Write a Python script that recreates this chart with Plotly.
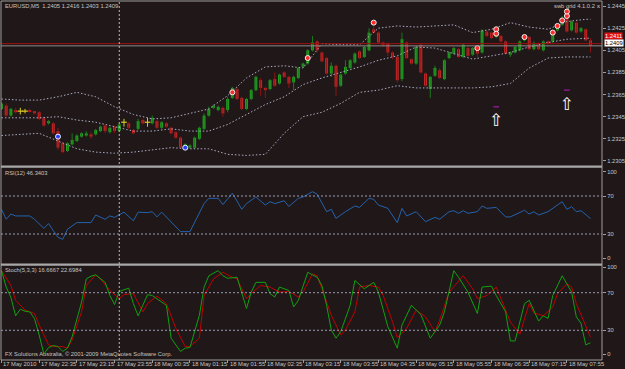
import plotly.graph_objects as go

W, H = 625, 369

# ---------------- data ----------------
bars = list(range(126))
open_ = [1.2352,1.2355,1.2346,1.2351,1.2350,1.2350,1.2351,1.2350,1.2349,1.2344,
         1.2339,1.2339,1.2332,1.2321,1.2314,1.2320,1.2323,1.2327,1.2328,1.2329,
         1.2329,1.2332,1.2337,1.2331,1.2336,1.2332,1.2340,1.2339,1.2333,1.2334,
         1.2342,1.2340,1.2339,1.2341,1.2335,1.2339,1.2335,1.2331,1.2326,1.2317,
         1.2317,1.2317,1.2325,1.2334,1.2346,1.2353,1.2351,1.2353,1.2351,1.2362,
         1.2370,1.2362,1.2352,1.2361,1.2369,1.2378,1.2371,1.2370,1.2379,1.2375,
         1.2385,1.2381,1.2376,1.2380,1.2390,1.2393,1.2405,1.2413,1.2403,1.2398,
         1.2384,1.2391,1.2373,1.2384,1.2389,1.2394,1.2404,1.2399,1.2405,1.2424,
         1.2421,1.2412,1.2411,1.2403,1.2399,1.2379,1.2412,1.2397,1.2393,1.2410,
         1.2384,1.2370,1.2382,1.2387,1.2379,1.2398,1.2402,1.2406,1.2399,1.2407,
         1.2401,1.2408,1.2403,1.2422,1.2421,1.2417,1.2418,1.2413,1.2401,1.2403,
         1.2405,1.2414,1.2417,1.2406,1.2411,1.2405,1.2413,1.2413,1.2423,1.2428,
         1.2434,1.2423,1.2430,1.2422,1.2424,1.2414]
high = [1.2358,1.2357,1.2353,1.2353,1.2353,1.2352,1.2352,1.2350,1.2350,1.2345,
        1.2342,1.2340,1.2335,1.2322,1.2322,1.2330,1.2329,1.2331,1.2332,1.2331,
        1.2334,1.2337,1.2338,1.2336,1.2337,1.2339,1.2343,1.2340,1.2334,1.2343,
        1.2343,1.2344,1.2346,1.2342,1.2341,1.2340,1.2336,1.2332,1.2327,1.2321,
        1.2320,1.2327,1.2336,1.2348,1.2354,1.2356,1.2355,1.2354,1.2363,1.2372,
        1.2372,1.2363,1.2362,1.2370,1.2382,1.2380,1.2372,1.2379,1.2385,1.2384,
        1.2386,1.2382,1.2382,1.2390,1.2394,1.2406,1.2418,1.2414,1.2404,1.2399,
        1.2394,1.2392,1.2384,1.2396,1.2397,1.2403,1.2405,1.2409,1.2425,1.2427,
        1.2422,1.2413,1.2412,1.2404,1.2400,1.2421,1.2413,1.2398,1.2409,1.2411,
        1.2385,1.2382,1.2391,1.2389,1.2397,1.2404,1.2408,1.2407,1.2411,1.2408,
        1.2408,1.2409,1.2424,1.2423,1.2422,1.2426,1.2419,1.2414,1.2404,1.2409,
        1.2414,1.2418,1.2418,1.2413,1.2412,1.2414,1.2414,1.2422,1.2429,1.2436,
        1.2441,1.2432,1.2431,1.2426,1.2425,1.2416]
low = [1.2351,1.2345,1.2345,1.2348,1.2347,1.2348,1.2349,1.2347,1.2342,1.2336,
       1.2338,1.2329,1.2315,1.2312,1.2313,1.2319,1.2322,1.2326,1.2327,1.2325,
       1.2328,1.2331,1.2330,1.2330,1.2330,1.2331,1.2336,1.2334,1.2329,1.2333,
       1.2338,1.2336,1.2338,1.2334,1.2334,1.2335,1.2329,1.2325,1.2316,1.2316,
       1.2316,1.2316,1.2324,1.2333,1.2345,1.2352,1.2350,1.2345,1.2349,1.2361,
       1.2360,1.2351,1.2351,1.2360,1.2368,1.2364,1.2362,1.2369,1.2372,1.2374,
       1.2380,1.2371,1.2369,1.2379,1.2389,1.2392,1.2404,1.2403,1.2394,1.2383,
       1.2381,1.2364,1.2372,1.2383,1.2388,1.2393,1.2397,1.2398,1.2404,1.2420,
       1.2411,1.2408,1.2400,1.2397,1.2376,1.2377,1.2397,1.2392,1.2392,1.2384,
       1.2372,1.2362,1.2381,1.2379,1.2378,1.2397,1.2401,1.2398,1.2398,1.2399,
       1.2400,1.2399,1.2402,1.2417,1.2415,1.2416,1.2412,1.2401,1.2399,1.2402,
       1.2404,1.2413,1.2405,1.2405,1.2405,1.2404,1.2410,1.2412,1.2422,1.2427,
       1.2421,1.2422,1.2420,1.2421,1.2413,1.2403]
close = [1.2357,1.2346,1.2352,1.2349,1.2350,1.2350,1.2350,1.2348,1.2343,1.2337,
         1.2341,1.2330,1.2317,1.2313,1.2321,1.2324,1.2328,1.2330,1.2330,1.2327,
         1.2333,1.2336,1.2332,1.2335,1.2332,1.2338,1.2340,1.2335,1.2330,1.2341,
         1.2339,1.2340,1.2344,1.2335,1.2340,1.2336,1.2330,1.2326,1.2317,1.2320,
         1.2319,1.2326,1.2335,1.2346,1.2352,1.2355,1.2354,1.2348,1.2361,1.2371,
         1.2361,1.2352,1.2361,1.2369,1.2381,1.2371,1.2369,1.2378,1.2373,1.2383,
         1.2381,1.2375,1.2381,1.2389,1.2393,1.2405,1.2412,1.2405,1.2395,1.2384,
         1.2391,1.2372,1.2383,1.2390,1.2396,1.2402,1.2398,1.2408,1.2421,1.2421,
         1.2412,1.2410,1.2403,1.2399,1.2378,1.2415,1.2398,1.2393,1.2408,1.2385,
         1.2373,1.2381,1.2389,1.2380,1.2396,1.2403,1.2407,1.2399,1.2410,1.2400,
         1.2407,1.2402,1.2423,1.2418,1.2416,1.2425,1.2413,1.2402,1.2403,1.2408,
         1.2413,1.2416,1.2406,1.2411,1.2406,1.2413,1.2411,1.2421,1.2428,1.2434,
         1.2422,1.2431,1.2421,1.2425,1.2414,1.2409]

bb_bar = [0,4,8,12,16,20,24,28,32,36,40,44,48,52,56,60,64,68,72,76,80,84,88,92,96,100,104,108,112,116,120,124,125]
bb_upper = [1.2361,1.2360,1.2360,1.2363,1.2367,1.2363,1.2354,1.2347,1.2343,1.2344,1.2348,1.2352,1.2364,1.2380,1.2390,1.2391,
            1.2389,1.2411,1.2410,1.2410,1.2425,1.2427,1.2426,1.2427,1.2428,1.2421,1.2424,1.2430,1.2426,1.2424,1.2431,1.2433,1.2433]
bb_mid = [1.2344,1.2344,1.2344,1.2345,1.2342,1.2340,1.2336,1.2332,1.2332,1.2334,1.2332,1.2332,1.2338,1.2347,1.2356,1.2363,
          1.2374,1.2380,1.2385,1.2390,1.2396,1.2400,1.2408,1.2407,1.2402,1.2397,1.2400,1.2403,1.2408,1.2412,1.2415,1.2416,1.2416]
bb_lower = [1.2328,1.2329,1.2330,1.2323,1.2316,1.2313,1.2312,1.2313,1.2315,1.2317,1.2316,1.2316,1.2311,1.2310,1.2311,1.2330,
            1.2345,1.2349,1.2357,1.2367,1.2369,1.2373,1.2371,1.2371,1.2371,1.2371,1.2372,1.2375,1.2389,1.2398,1.2399,1.2399,1.2399]

rsi_bar = [0,1,2,3,6,7,9,10,11,12,13,14,16,19,20,21,22,23,24,26,28,29,31,32,33,34,35,38,40,43,44,46,47,49,51,52,54,56,57,58,
           60,61,63,64,66,67,69,70,71,73,75,76,78,79,80,82,84,85,86,88,90,92,93,95,96,97,98,99,101,102,103,105,107,108,
           111,112,113,114,116,119,120,121,122,123,125]
rsi_val = [56,45.5,51,49,49,45.5,36,41,33.5,26.5,24.4,35,42,42,50,48,45.5,49,47.5,53,44,53,52.5,53.5,48,53,48,32.5,32.5,62,
           67.5,67.5,61,73,56,62,69,60.5,64,62,65,59,67.5,69,74.5,72,53.5,56,46.5,53.5,59.5,58,67.5,66.5,60.5,57,42,57,49,53.5,
           43,47.5,45.5,53.5,54.5,51.8,54.5,51.8,53.5,59.5,57,58,48,48,55,51,53.5,50,53.5,64,56,58.8,53.5,54.5,46.3403]

stk_bar = [0,1,2,3,4,5,6,7,8,9,10,11,12,13,14,15,17,18,19,20,22,23,24,25,27,28,29,31,32,34,35,36,38,39,40,42,43,44,46,47,
           48,50,52,53,54,56,57,58,59,61,62,63,65,66,67,68,69,70,71,72,74,75,77,79,80,82,84,85,87,89,91,93,94,96,97,99,
           101,102,104,105,107,108,109,111,112,114,115,116,117,119,121,122,123,124,125]
stk_val = [93.5,76,65,45.4,52.4,50.3,49.6,42.6,25,4.7,11.7,13.8,12.7,7.5,11,23.3,60,84.7,87.5,89,81,67,57.4,71.4,74.8,58.4,
           45.4,67.9,67,59.5,56.6,21.6,7.5,11,11.7,46,76,88,93.5,88,85.4,86.4,53.2,70.6,81,81,69,65.4,76,72.4,54.8,61.9,91.7,
           89,86.4,77.7,56.6,30.3,21.6,28.5,56.6,83,74.2,81,70.6,33.8,11,35.6,56.6,46.8,21.6,35.6,49.6,93.5,86.4,70.6,47.9,76,
           77,67,49.6,18.7,18.7,58.4,61.9,39.8,45.4,42.6,67,88,70.6,44.3,37.4,14.5,16.6667]
std_bar = [0,2,3,5,7,8,10,11,13,14,15,17,18,20,21,23,25,26,28,30,31,33,35,37,39,40,42,43,45,47,49,50,52,53,55,57,59,61,
           63,64,66,67,68,70,72,73,75,76,78,80,81,83,84,86,88,90,92,93,95,98,100,101,103,105,106,108,110,112,113,115,117,
           118,120,121,122,124,125]
std_val = [93.5,77.7,61.9,51.4,47.9,35.6,14.5,12.7,12.7,11,19.8,49.6,77.7,89,84.7,72.4,63.7,67.9,69,49.6,58.4,66.4,58.4,
           32.1,12.7,12.7,21.6,67,84.7,91.7,86.4,84.7,63.7,69,77.7,76,70.6,71.4,65.4,70.6,90,88,74.2,46,25,30.3,49.6,76,77.7,
           76,67,39,22.2,32.1,51.4,44.3,28.5,40.8,70.6,88,74.2,63.7,67,76,63.7,39,25.8,58.4,48.5,45.4,54.8,69,79.5,76,58.4,
           35.6,22.6984]

sig_up_bar = [49,65,79,101,105,105,111,117,118,119,120,120]
sig_up_price = [1.2367,1.2398,1.2430,1.2407,1.2424,1.2420,1.2417,1.2421,1.2427,1.2432,1.2436,1.2440]
sig_dn_bar = [12,39]
sig_dn_price = [1.2327,1.2317]
arrow_bar = [105,120]
arrow_price = [1.2340,1.2355]
dash_bar = [105,120]
dash_price = [1.2354,1.2369]

tick_bars = list(range(0,121,8))
tick_labels = ["17 May 2010","17 May 22:35","17 May 23:15","17 May 23:55","18 May 00:35","18 May 01:15",
               "18 May 01:55","18 May 02:35","18 May 03:15","18 May 03:55","18 May 04:35","18 May 05:15",
               "18 May 05:55","18 May 06:35","18 May 07:15","18 May 07:55"]
price_ticks = [1.2305,1.2325,1.2345,1.2365,1.2385,1.2405,1.2425,1.2445]
bid, ask = 1.2409, 1.2411
day_sep_bar = 25

# ---------------- styling ----------------
BG = "#201818"
TXT = "#c4c4c4"
FONT = "Liberation Sans"
FS = 5.8
GREEN, GREEN_W = "#22a022", "#1a7a1a"
RED, RED_W = "#c82828", "#8c1414"
DOJI = "#d8cc20"

def py(px):
    return (H - px) / H

fig = go.Figure()

# wicks
for col, cond in ((GREEN_W, lambda o, c: c > o), (RED_W, lambda o, c: c < o), (DOJI, lambda o, c: c == o)):
    xs, ys = [], []
    for i, o, h, l, c in zip(bars, open_, high, low, close):
        if cond(o, c):
            xs += [i, i, None]
            ys += [l, h, None]
    fig.add_trace(go.Scatter(x=xs, y=ys, mode="lines", line=dict(color=col, width=1),
                             hoverinfo="skip", showlegend=False))

# bodies
bx, bbase, bh, bcol = [], [], [], []
dx, dy = [], []
for i, o, c in zip(bars, open_, close):
    if c == o:
        dx.append(i); dy.append(o)
    else:
        bx.append(i); bbase.append(min(o, c)); bh.append(abs(c - o))
        bcol.append(GREEN if c > o else RED)
fig.add_trace(go.Bar(x=bx, y=bh, base=bbase, width=0.62, marker=dict(color=bcol, line=dict(width=0)),
                     showlegend=False, hoverinfo="skip"))
fig.add_trace(go.Scatter(x=dx, y=dy, mode="markers", marker=dict(symbol="line-ew", size=4,
                         line=dict(color=DOJI, width=1.2)), showlegend=False))

# bollinger bands
for band in (bb_upper, bb_mid, bb_lower):
    fig.add_trace(go.Scatter(x=bb_bar, y=band, mode="lines", line=dict(color="#aaaac4", width=1, dash="1.5px,2px"),
                             showlegend=False, hoverinfo="skip"))

# signal markers
fig.add_trace(go.Scatter(x=sig_up_bar, y=sig_up_price, mode="markers",
                         marker=dict(size=5, color="#ff2a2a", line=dict(color="#f0f0f0", width=1)), showlegend=False))
fig.add_trace(go.Scatter(x=sig_dn_bar, y=sig_dn_price, mode="markers",
                         marker=dict(size=5, color="#2a40ff", line=dict(color="#f0f0f0", width=1)), showlegend=False))
fig.add_trace(go.Scatter(x=arrow_bar, y=arrow_price, mode="text", text=["\u21e7"] * len(arrow_bar),
                         textfont=dict(family="DejaVu Sans", size=17, color="white"), showlegend=False))
fig.add_trace(go.Scatter(x=dash_bar, y=dash_price, mode="markers",
                         marker=dict(symbol="line-ew", size=4, line=dict(color="#8a1a8a", width=1.5)), showlegend=False))

# RSI
fig.add_trace(go.Scatter(x=rsi_bar, y=rsi_val, yaxis="y2", mode="lines", line=dict(color="#2462ae", width=1),
                         showlegend=False))
# Stochastic
fig.add_trace(go.Scatter(x=std_bar, y=std_val, yaxis="y3", mode="lines", line=dict(color="#c00000", width=1),
                         showlegend=False))
fig.add_trace(go.Scatter(x=stk_bar, y=stk_val, yaxis="y3", mode="lines", line=dict(color="#10a010", width=1),
                         showlegend=False))

XL, XR = 1 / W, 602 / W
shapes = []
# level lines
for ref, lv in (("y2", 30), ("y2", 70), ("y3", 30), ("y3", 70)):
    shapes.append(dict(type="line", xref="paper", x0=XL, x1=XR, yref=ref, y0=lv, y1=lv,
                       line=dict(color="#9a9ab4", width=1, dash="2px,2px")))
# bid / ask lines
shapes.append(dict(type="line", xref="paper", x0=XL, x1=XR, yref="y", y0=ask, y1=ask, line=dict(color="#a01010", width=1)))
shapes.append(dict(type="line", xref="paper", x0=XL, x1=XR, yref="y", y0=bid, y1=bid, line=dict(color="#8a8a8a", width=1)))
# day separator
shapes.append(dict(type="line", xref="x", x0=day_sep_bar, x1=day_sep_bar, yref="paper", y0=py(360), y1=py(1),
                   line=dict(color="#b8b8b8", width=1, dash="2px,2px")))
# frame
frame = "#9c9c9c"
shapes.append(dict(type="line", xref="paper", x0=XL, x1=XL, yref="paper", y0=py(360), y1=py(1), line=dict(color=frame, width=1)))
shapes.append(dict(type="line", xref="paper", x0=XR, x1=XR, yref="paper", y0=py(360), y1=py(1), line=dict(color=frame, width=1)))
shapes.append(dict(type="line", xref="paper", x0=XL, x1=XR, yref="paper", y0=py(1), y1=py(1), line=dict(color=frame, width=1)))
shapes.append(dict(type="line", xref="paper", x0=XL, x1=XR, yref="paper", y0=py(360), y1=py(360), line=dict(color=frame, width=1)))
for top in (165.5, 263.5):
    shapes.append(dict(type="rect", xref="paper", x0=XL, x1=XR, yref="paper", y0=py(top + 2.2), y1=py(top),
                       fillcolor="#a8a8a8", line=dict(width=0)))

annotations = []
def txt(x, y, s, **kw):
    d = dict(xref="paper", yref="paper", x=x / W, y=py(y), text=s, showarrow=False, xanchor="left",
             yanchor="middle", font=dict(family=FONT, size=FS, color=TXT))
    d.update(kw)
    annotations.append(d)

txt(3, 6, "EURUSD,M5&nbsp;&nbsp;1.2405&nbsp;1.2416&nbsp;1.2403&nbsp;1.2409")
txt(552, 6, "swb grid 4.1.0.2")
txt(595, 6, "x", font=dict(family=FONT, size=FS, color="#e0e0e0"))
txt(3, 173.5, "RSI(12) 46.3403")
txt(3, 270, "Stoch(5,3,3) 16.6667 22.6984")
txt(3, 353.5, "FX Solutions Australia, © 2001-2009 MetaQuotes Software Corp.")

for b, lab in zip(tick_bars, tick_labels):
    annotations.append(dict(xref="x", yref="paper", x=b, y=py(363.5), text=lab, showarrow=False, xanchor="left",
                            yanchor="middle", xshift=0, font=dict(family=FONT, size=FS, color=TXT)))

# price tags: bid tag just above the 1.2405 axis label, ask tag stacked above it
annotations.append(dict(xref="paper", yref="y", x=XR, y=ask, text="1.2411", showarrow=False, xanchor="left",
                        yanchor="bottom", bgcolor="#e01010", borderpad=0, xshift=2, yshift=4,
                        font=dict(family=FONT, size=FS, color="white")))
annotations.append(dict(xref="paper", yref="y", x=XR, y=bid, text="1.2409", showarrow=False, xanchor="left",
                        yanchor="bottom", bgcolor="#ffffff", borderpad=0, xshift=2, yshift=-1,
                        font=dict(family=FONT, size=FS, color="black")))

axfont = dict(family=FONT, size=FS, color=TXT)
fig.update_layout(
    width=W, height=H, margin=dict(l=0, r=0, t=0, b=0),
    paper_bgcolor=BG, plot_bgcolor=BG, barmode="overlay", showlegend=False,
    xaxis=dict(domain=[XL, XR], range=[-0.1, 127.45], showgrid=False, zeroline=False, showticklabels=False,
               tickvals=tick_bars, ticks="outside", ticklen=3, tickcolor="#9c9c9c", anchor="y3", showline=False),
    yaxis=dict(domain=[py(166), py(2)], range=[1.230045, 1.244864], side="right", anchor="x",
               tickvals=price_ticks, ticktext=["%.4f" % v for v in price_ticks], ticks="outside", ticklen=3,
               tickcolor="#9c9c9c", tickfont=axfont, showgrid=False, zeroline=False),
    yaxis2=dict(domain=[py(262.5), py(167.5)], range=[0, 100], side="right", anchor="x",
                tickvals=[4.5, 30, 70, 95.5], ticktext=["0", "30", "70", "100"], ticks="outside", ticklen=3,
                tickcolor="#9c9c9c", tickfont=axfont, showgrid=False, zeroline=False),
    yaxis3=dict(domain=[py(358.5), py(264.5)], range=[0, 100], side="right", anchor="x",
                tickvals=[4.5, 30, 70, 97], ticktext=["0", "30", "70", "100"], ticks="outside", ticklen=3,
                tickcolor="#9c9c9c", tickfont=axfont, showgrid=False, zeroline=False),
    shapes=shapes, annotations=annotations,
)

fig.write_html("out.html")
